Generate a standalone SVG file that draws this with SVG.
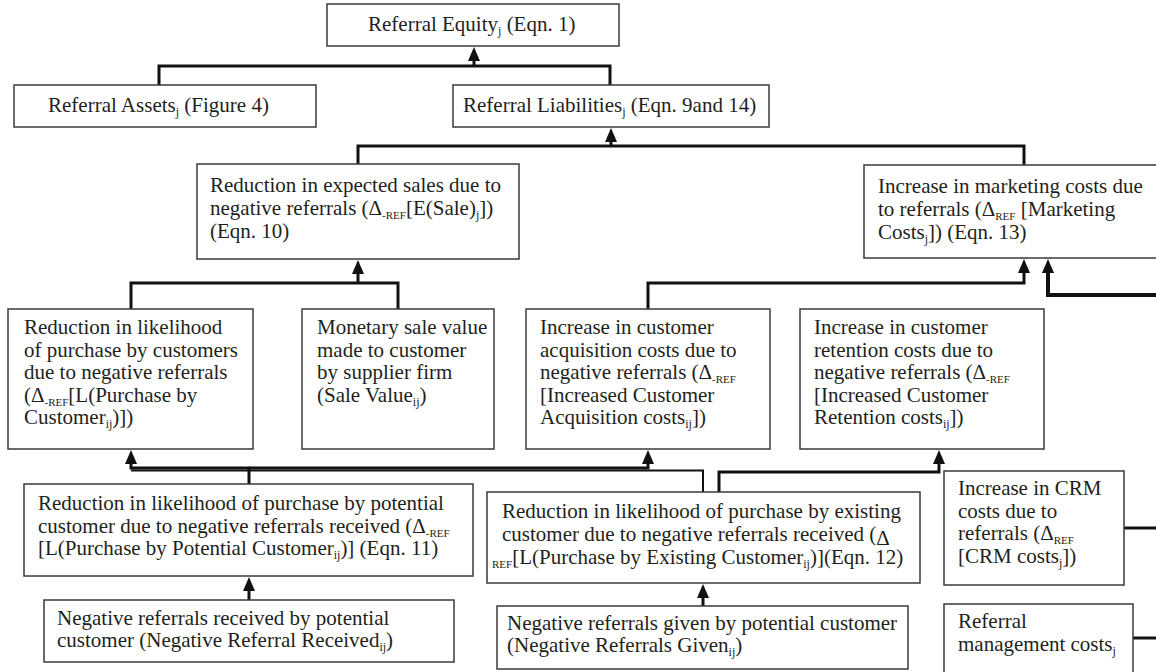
<svg xmlns="http://www.w3.org/2000/svg" width="1156" height="672" viewBox="0 0 1156 672">
  <style>
    .box { fill: #ffffff; stroke: #3a3a3a; stroke-width: 1.5; }
    .t { font-family: "Liberation Serif", "Times New Roman", serif; font-size: 21px; fill: #231f20; }
    .sb { font-size: 12px; }
    .sr { font-size: 11px; }
    .ln { fill: none; stroke: #111111; stroke-width: 3; }
    .lt { fill: none; stroke: #111111; stroke-width: 2; }
    .lw { fill: none; stroke: #111111; stroke-width: 4; }
  </style>
  <defs>
    <marker id="arrow" viewBox="0 0 14 12" markerWidth="14" markerHeight="12" refX="3" refY="6" orient="auto" markerUnits="userSpaceOnUse">
      <path d="M0,0 L14,6 L0,12 Z" fill="#111111"/>
    </marker>
  </defs>
  <rect width="1156" height="672" fill="#ffffff"/>

  <!-- connectors: elbow lines, arrowheads point at the box they feed -->
  <g id="connectors">
    <path class="ln" d="M159,85 V66 H610 V85"/>
    <path class="ln" d="M474,66 V58" marker-end="url(#arrow)"/>
    <path class="ln" d="M358,164 V146 H1024 V165"/>
    <path class="ln" d="M611,146 V139" marker-end="url(#arrow)"/>
    <path class="ln" d="M131,309 V283 H398 V309"/>
    <path class="ln" d="M358,283 V271" marker-end="url(#arrow)"/>
    <path class="ln" d="M648,309 V283 H1024 V270" marker-end="url(#arrow)"/>
    <path class="lw" d="M1156,295 H1048 V270" marker-end="url(#arrow)"/>
    <path class="ln" d="M249,484 V468 H131 V461" marker-end="url(#arrow)"/>
    <path class="ln" d="M249,468 H648 V461" marker-end="url(#arrow)"/>
    <path class="lt" d="M703,492 V470.5 H131"/>
    <path class="ln" d="M719,492 V472 H939 V461" marker-end="url(#arrow)"/>
    <path class="ln" d="M249,600 V588" marker-end="url(#arrow)"/>
    <path class="ln" d="M703,606 V595" marker-end="url(#arrow)"/>
    <path class="ln" d="M1124,528 H1156"/>
    <path class="ln" d="M1133,638 H1156"/>
  </g>

  <g id="referral-equity">
    <rect class="box" x="327" y="4" width="292" height="42"/>
    <text class="t" x="368" y="31">Referral Equity<tspan class="sb" dy="4">j</tspan><tspan dy="-4"> (Eqn. 1)</tspan></text>
  </g>

  <g id="referral-assets">
    <rect class="box" x="14" y="85" width="302" height="42"/>
    <text class="t" x="48" y="112">Referral Assets<tspan class="sb" dy="4">j</tspan><tspan dy="-4"> (Figure 4)</tspan></text>
  </g>

  <g id="referral-liabilities">
    <rect class="box" x="453" y="85" width="316" height="42"/>
    <text class="t" x="463" y="112">Referral Liabilities<tspan class="sb" dy="4">j</tspan><tspan dy="-4"> (Eqn. 9and 14)</tspan></text>
  </g>

  <g id="expected-sales">
    <rect class="box" x="197" y="164" width="322" height="95"/>
    <text class="t" x="210" y="192">Reduction in expected sales due to</text>
    <text class="t" x="210" y="215">negative referrals (Δ<tspan class="sr" dy="4">-REF</tspan><tspan dy="-4">[E(Sale)</tspan><tspan class="sb" dy="4">j</tspan><tspan dy="-4">])</tspan></text>
    <text class="t" x="210" y="238">(Eqn. 10)</text>
  </g>

  <g id="marketing-costs">
    <rect class="box" x="864" y="165" width="310" height="93"/>
    <text class="t" x="878" y="193">Increase in marketing costs due</text>
    <text class="t" x="878" y="216">to referrals (Δ<tspan class="sr" dy="4">REF</tspan><tspan dy="-4"> [Marketing</tspan></text>
    <text class="t" x="878" y="239">Costs<tspan class="sb" dy="4">j</tspan><tspan dy="-4">]) (Eqn. 13)</tspan></text>
  </g>

  <g id="purchase-likelihood">
    <rect class="box" x="8" y="309" width="245" height="140"/>
    <text class="t" x="24" y="334">Reduction in likelihood</text>
    <text class="t" x="24" y="356.5">of purchase by customers</text>
    <text class="t" x="24" y="379">due to negative referrals</text>
    <text class="t" x="24" y="401.5">(Δ<tspan class="sr" dy="4">-REF</tspan><tspan dy="-4">[L(Purchase by</tspan></text>
    <text class="t" x="24" y="424">Customer<tspan class="sb" dy="4">ij</tspan><tspan dy="-4">)])</tspan></text>
  </g>

  <g id="sale-value">
    <rect class="box" x="302" y="309" width="192" height="140"/>
    <text class="t" x="317" y="334">Monetary sale value</text>
    <text class="t" x="317" y="356.5">made to customer</text>
    <text class="t" x="317" y="379">by supplier firm</text>
    <text class="t" x="317" y="401.5">(Sale Value<tspan class="sb" dy="4">ij</tspan><tspan dy="-4">)</tspan></text>
  </g>

  <g id="acquisition-costs">
    <rect class="box" x="526" y="309" width="244" height="140"/>
    <text class="t" x="540" y="334">Increase in customer</text>
    <text class="t" x="540" y="356.5">acquisition costs due to</text>
    <text class="t" x="540" y="379">negative referrals (Δ<tspan class="sr" dy="4">-REF</tspan></text>
    <text class="t" x="540" y="401.5">[Increased Customer</text>
    <text class="t" x="540" y="424">Acquisition costs<tspan class="sb" dy="4">ij</tspan><tspan dy="-4">])</tspan></text>
  </g>

  <g id="retention-costs">
    <rect class="box" x="800" y="309" width="244" height="140"/>
    <text class="t" x="814" y="334">Increase in customer</text>
    <text class="t" x="814" y="356.5">retention costs due to</text>
    <text class="t" x="814" y="379">negative referrals (Δ<tspan class="sr" dy="4">-REF</tspan></text>
    <text class="t" x="814" y="401.5">[Increased Customer</text>
    <text class="t" x="814" y="424">Retention costs<tspan class="sb" dy="4">ij</tspan><tspan dy="-4">])</tspan></text>
  </g>

  <g id="potential-customer">
    <rect class="box" x="24" y="484" width="449" height="92"/>
    <text class="t" x="38" y="510">Reduction in likelihood of purchase by potential</text>
    <text class="t" x="38" y="532.5">customer due to negative referrals received (Δ<tspan class="sr" dy="4">-REF</tspan></text>
    <text class="t" x="38" y="555">[L(Purchase by Potential Customer<tspan class="sb" dy="4">ij</tspan><tspan dy="-4">)] (Eqn. 11)</tspan></text>
  </g>

  <g id="existing-customer">
    <rect class="box" x="487" y="492" width="433" height="91"/>
    <text class="t" x="502" y="518">Reduction in likelihood of purchase by existing</text>
    <text class="t" x="502" y="541">customer due to negative referrals received (<tspan dy="4">Δ</tspan></text>
    <text class="t" x="492" y="564"><tspan class="sr" dy="4">REF</tspan><tspan dy="-4">[L(Purchase by Existing Customer</tspan><tspan class="sb" dy="4">ij</tspan><tspan dy="-4">)](Eqn. 12)</tspan></text>
  </g>

  <g id="crm-costs">
    <rect class="box" x="944" y="471" width="180" height="114"/>
    <text class="t" x="958" y="495">Increase in CRM</text>
    <text class="t" x="958" y="518">costs due to</text>
    <text class="t" x="958" y="540">referrals (Δ<tspan class="sr" dy="4">REF</tspan></text>
    <text class="t" x="958" y="563">[CRM costs<tspan class="sb" dy="4">j</tspan><tspan dy="-4">])</tspan></text>
  </g>

  <g id="negative-received">
    <rect class="box" x="44" y="600" width="410" height="62"/>
    <text class="t" x="57" y="625">Negative referrals received by potential</text>
    <text class="t" x="57" y="647">customer (Negative Referral Received<tspan class="sb" dy="4">ij</tspan><tspan dy="-4">)</tspan></text>
  </g>

  <g id="negative-given">
    <rect class="box" x="497" y="606" width="411" height="63"/>
    <text class="t" x="507" y="630">Negative referrals given by potential customer</text>
    <text class="t" x="507" y="652">(Negative Referrals Given<tspan class="sb" dy="4">ij</tspan><tspan dy="-4">)</tspan></text>
  </g>

  <g id="referral-management">
    <rect class="box" x="944" y="604" width="189" height="72"/>
    <text class="t" x="958" y="628">Referral</text>
    <text class="t" x="958" y="651">management costs<tspan class="sb" dy="4">j</tspan></text>
  </g>
</svg>
